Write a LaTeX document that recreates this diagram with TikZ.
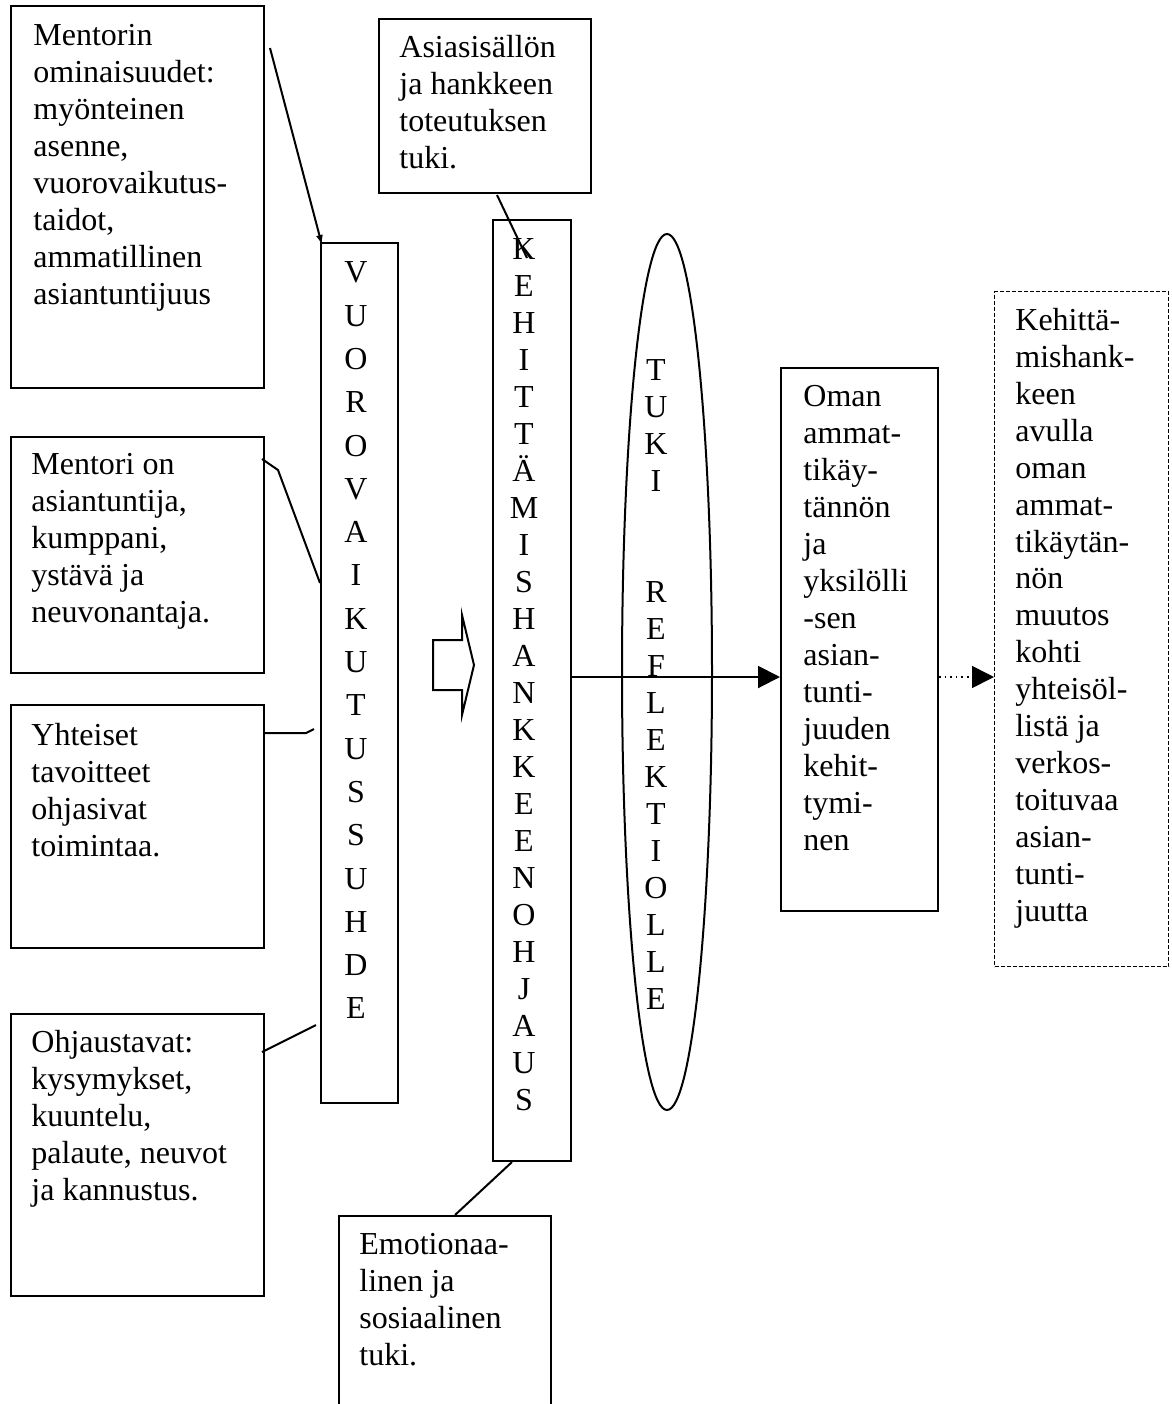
\documentclass[tikz,border=0pt]{standalone}
\usepackage{fontspec}
\setmainfont{Liberation Serif}
\usetikzlibrary{arrows.meta,shapes.geometric,calc}
\begin{document}
\begin{tikzpicture}[x=0.5pt,y=-0.5pt,
  box/.style={draw,line width=1pt,rectangle,inner sep=0pt,anchor=north west},
  txt/.style={anchor=north west,inner sep=0pt,align=left,font=\fontsize{16}{18.5}\selectfont},
  vtxt/.style={anchor=north,inner sep=0pt,align=center},
  con/.style={line width=1pt},
  tri/.style={-{Triangle[length=11pt,width=11pt]}}
]
\useasboundingbox (0,0) rectangle (1172,1404);
\fill[white] (0,0) rectangle (1172,1404);
\clip (0,0) rectangle (1172,1404);

% left boxes
\node[box,minimum width=126.5pt,minimum height=191pt] (b1) at (10,5) {};
\node[box,minimum width=126.5pt,minimum height=118pt] (b2) at (10,436) {};
\node[box,minimum width=126.5pt,minimum height=121.5pt] (b3) at (10,704) {};
\node[box,minimum width=126.5pt,minimum height=141pt] (b4) at (10,1013) {};
\node[box,minimum width=106pt,minimum height=87pt] (b5) at (378,18) {};
\node[box,minimum width=106pt,minimum height=102.5pt] (be) at (338,1215) {};
\node[box,minimum width=38.5pt,minimum height=430pt] (V) at (320,242) {};
\node[box,minimum width=39pt,minimum height=470.5pt] (K) at (492,219) {};
\node[draw,ellipse,line width=1pt,minimum width=45pt,minimum height=438pt,inner sep=0pt] (E) at (667,672) {};
\node[box,minimum width=78.5pt,minimum height=271.5pt] (O) at (780,367) {};
\node[box,line width=0.6pt,dash pattern=on 2pt off 1pt,minimum width=87pt,minimum height=337.5pt] (D) at (994,291) {};

% texts
\node[txt] (t1) at (33,24) {Mentorin\\ominaisuudet:\\myönteinen\\asenne,\\vuorovaikutus-\\taidot,\\ammatillinen\\asiantuntijuus};
\node[txt] (t2) at (31,453) {Mentori on\\asiantuntija,\\kumppani,\\ystävä ja\\neuvonantaja.};
\node[txt] (t3) at (31,723) {Yhteiset\\tavoitteet\\ohjasivat\\toimintaa.};
\node[txt] (t4) at (31,1030) {Ohjaustavat:\\kysymykset,\\kuuntelu,\\palaute, neuvot\\ja kannustus.};
\node[txt] (t5) at (399,35) {Asiasisällön\\ja hankkeen\\toteutuksen\\tuki.};
\node[txt] (te) at (359,1233) {Emotionaa-\\linen ja\\sosiaalinen\\tuki.};
\node[txt] (to) at (803,385) {Oman\\ammat-\\tikäy-\\tännön\\ja\\yksilölli\\-sen\\asian-\\tunti-\\juuden\\kehit-\\tymi-\\nen};
\node[txt,font=\fontsize{16}{18.45}\selectfont] (td) at (1015,308) {Kehittä-\\mishank-\\keen\\avulla\\oman\\ammat-\\tikäytän-\\nön\\muutos\\kohti\\yhteisöl-\\listä ja\\verkos-\\toituvaa\\asian-\\tunti-\\juutta};

\node[vtxt,font=\fontsize{16}{21.65}\selectfont] (tv) at (356,261.5) {V\\U\\O\\R\\O\\V\\A\\I\\K\\U\\T\\U\\S\\S\\U\\H\\D\\E};
\node[vtxt,font=\fontsize{16}{18.5}\selectfont] (tk) at (524,238.5) {K\\E\\H\\I\\T\\T\\Ä\\M\\I\\S\\H\\A\\N\\K\\K\\E\\E\\N\\O\\H\\J\\A\\U\\S};
\node[vtxt,font=\fontsize{16}{18.5}\selectfont] (tt) at (656,359.5) {T\\U\\K\\I\\[37pt]R\\E\\F\\L\\E\\K\\T\\I\\O\\L\\L\\E};

% block arrow
\draw[con] (433,640) -- (462,640) -- (462,615) -- (474,665) -- (462,715) -- (462,690) -- (433,690) -- cycle;

% connectors
\coordinate (midy) at (0,677);
\draw[con,-{Latex[length=5pt,width=3.5pt]}] ($(b1.north east)+(5,43)$) -- ($(V.north west)+(2,3)$);
\draw[con] ($(b2.north east)+(-3,23)$) -- (278,470) -- ($(V.north west)+(0,341)$);
\coordinate (c3end) at (314,729);
\draw[con] ($(b3.north east)+(0,29)$) -- (306,733) -- (c3end);
\coordinate (c4end) at (316,1025);
\draw[con] ($(b4.north east)+(-3,39)$) -- (c4end);
\draw[con] ($(b5.south east)+(-95,1)$) -- ($(K.north west)+(35,39)$);
\draw[con] ($(be.north west)+(117,0)$) -- ($(K.south west)+(20,0)$);
\draw[con,tri] (K.east |- midy) -- (O.west |- midy);
\draw[line width=0.8pt,dotted,tri] (O.east |- midy) -- (D.west |- midy);
\end{tikzpicture}
\end{document}
